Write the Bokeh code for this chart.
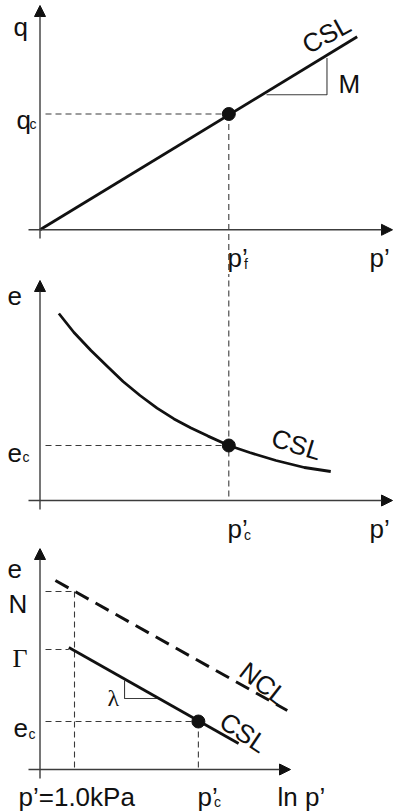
import math
from bokeh.plotting import figure
from bokeh.layouts import column
from bokeh.models import Range1d, Arrow, NormalHead
from bokeh.core.properties import value
from bokeh.embed import file_html
from bokeh.resources import INLINE

# ---------------- data ----------------
# panel 1 : q - p' plane
p_f = 100.0
q_c = 60.0
csl1_p = [0, 168]
csl1_q = [0, 100]
slope_tri_p = [120, 152, 152]
slope_tri_q = [70, 70, 89]

# panel 2 : e - p' plane
curve_p = [10, 18, 27, 36, 44, 53, 62, 71, 80, 89, 100, 111, 125, 140, 154]
curve_e = [1.435, 1.34, 1.25, 1.168, 1.095, 1.025, 0.962, 0.908, 0.862, 0.822,
           0.775, 0.74, 0.70, 0.665, 0.645]
p_c2 = 100.0
e_c2 = 0.775
e_axis2 = 0.5

# panel 3 : e - ln p' plane
ncl_lnp = [-0.71, 7.91]
ncl_e = [1.445, 0.795]
csl3_lnp = [-0.21, 6.1]
csl3_e = [1.11, 0.63]
N_val = 1.39
Gamma_val = 1.10
lnp_ref = 0.0          # p' = 1.0 kPa
lnp_c = 4.605
e_c3 = 0.74
lam_lnp = [1.86, 1.86, 3.09]
lam_e = [0.945, 0.855, 0.855]
e_axis3 = 0.5

# ---------------- layout (page pixels) ----------------
W = 393
INK = "#111111"
AXC = "#3c3c3c"
GUIDE = "#3a3a3a"
SANS = "Liberation Sans"
SERIF = "Liberation Serif"


class Panel:
    """A figure whose data -> page-pixel mapping is rx = ox + sx*x, ry = oy - sy*y."""

    def __init__(self, top, bot, ox, sx, oy, sy):
        self.ox, self.sx, self.oy, self.sy = ox, sx, oy, sy
        f = figure(width=W, height=bot - top,
                   x_range=Range1d((0 - ox) / sx, (W - ox) / sx),
                   y_range=Range1d((oy - bot) / sy, (oy - top) / sy),
                   output_backend="svg", toolbar_location=None, tools="",
                   x_axis_location=None, y_axis_location=None, min_border=0,
                   title=None)
        f.grid.visible = False
        f.outline_line_color = None
        f.background_fill_color = "white"
        f.border_fill_color = "white"
        self.f = f

    def dx(self, rx):
        return (rx - self.ox) / self.sx

    def dy(self, ry):
        return (self.oy - ry) / self.sy

    def text(self, x, y, s, size=26, font=SANS, align="left",
             baseline="alphabetic", angle=0.0):
        self.f.text(x=[x], y=[y], text=[s], text_font=value(font),
                    text_font_size=value(f"{size}px"), text_align=align,
                    text_baseline=baseline, angle=angle, text_color=INK)

    def rtext(self, rx, ry, s, **kw):
        self.text(self.dx(rx), self.dy(ry), s, **kw)

    def arrow(self, x0, y0, x1, y1):
        self.f.add_layout(Arrow(end=NormalHead(size=11, fill_color=INK, line_color=INK,
                                               line_width=1),
                                x_start=x0, y_start=y0, x_end=x1, y_end=y1,
                                line_color=AXC, line_width=1.4))

    def guide(self, xs, ys):
        self.f.line(xs, ys, line_color=GUIDE, line_width=1.1, line_dash="6 4")


b0, b1, b2, b3 = 0, 277, 548, 812

# ---------- panel 1 ----------
P1 = Panel(b0, b1, ox=39.5, sx=1.888, oy=229.3, sy=1.93)
f1 = P1.f
P1.arrow(P1.dx(28), 0, P1.dx(392), 0)
P1.arrow(0, P1.dy(238), 0, P1.dy(5))
P1.guide([P1.dx(45), p_f], [q_c, q_c])
P1.guide([p_f, p_f], [q_c, P1.dy(300)])
f1.line(slope_tri_p, slope_tri_q, line_color=AXC, line_width=1.1)
f1.line(csl1_p, csl1_q, line_color=INK, line_width=2.8)
f1.scatter([p_f], [q_c], marker="circle", size=13, fill_color=INK, line_color=INK)
P1.rtext(13, 26, "q")
P1.rtext(16, 119.5, "q")
P1.rtext(29, 123.5, "c", size=14)
P1.rtext(227, 257, "p\u2019")
P1.rtext(243.5, 263, "f", size=14)
P1.rtext(369, 257, "p\u2019")
P1.rtext(338, 83, "M")
P1.rtext(326, 34, "CSL", align="center", baseline="middle", angle=0.5)

# ---------- panel 2 ----------
P2 = Panel(b1, b2, ox=39.5, sx=1.888, oy=600.0, sy=200.0)
f2 = P2.f
P2.arrow(P2.dx(28), e_axis2, P2.dx(392), e_axis2)
P2.arrow(0, P2.dy(509), 0, P2.dy(280))
P2.guide([P2.dx(45), p_c2], [e_c2, e_c2])
P2.guide([p_c2, p_c2], [P2.dy(250), e_axis2])
f2.line(curve_p, curve_e, line_color=INK, line_width=2.8)
f2.scatter([p_c2], [e_c2], marker="circle", size=13, fill_color=INK, line_color=INK)
P2.rtext(7, 295, "e")
P2.rtext(7, 452, "e")
P2.rtext(22, 456, "c", size=14)
P2.rtext(227, 528, "p\u2019")
P2.rtext(243.5, 534, "c", size=14)
P2.rtext(369, 528, "p\u2019")
P2.rtext(296, 444, "CSL", align="center", baseline="middle", angle=-0.3)

# ---------- panel 3 ----------
P3 = Panel(b2, b3, ox=74.0, sx=26.9, oy=869.0, sy=200.0)
f3 = P3.f
P3.arrow(P3.dx(28), e_axis3, P3.dx(290), e_axis3)
P3.arrow(P3.dx(39.5), P3.dy(778), P3.dx(39.5), P3.dy(548))
P3.guide([P3.dx(45), lnp_ref], [N_val, N_val])
P3.guide([lnp_ref, lnp_ref], [N_val, e_axis3])
P3.guide([P3.dx(45), csl3_lnp[0]], [Gamma_val, Gamma_val])
P3.guide([P3.dx(45), lnp_c], [e_c3, e_c3])
P3.guide([lnp_c, lnp_c], [e_c3, e_axis3])
f3.line(ncl_lnp, ncl_e, line_color=INK, line_width=3, line_dash="15 8")
f3.line(lam_lnp, lam_e, line_color=AXC, line_width=1.1)
f3.line(csl3_lnp, csl3_e, line_color=INK, line_width=2.8)
f3.scatter([lnp_c], [e_c3], marker="circle", size=13, fill_color=INK, line_color=INK)
P3.rtext(7, 568, "e")
P3.rtext(8, 603, "N")
P3.rtext(12, 658, "\u0393", font=SERIF)
P3.rtext(13, 727, "e")
P3.rtext(28, 733, "c", size=14)
P3.rtext(107, 697, "\u03bb", font=SERIF, size=24)
P3.rtext(18, 796, "p\u2019=1.0kPa")
P3.rtext(197, 796, "p\u2019")
P3.rtext(213.5, 801, "c", size=14)
P3.rtext(277, 796, "ln p\u2019")
P3.rtext(263, 683, "NCL", align="center", baseline="middle", angle=-0.66)
P3.rtext(243, 732, "CSL", align="center", baseline="middle", angle=-0.59)

layout = column(f1, f2, f3, spacing=0)
open("out.html", "w").write(file_html(layout, INLINE))
